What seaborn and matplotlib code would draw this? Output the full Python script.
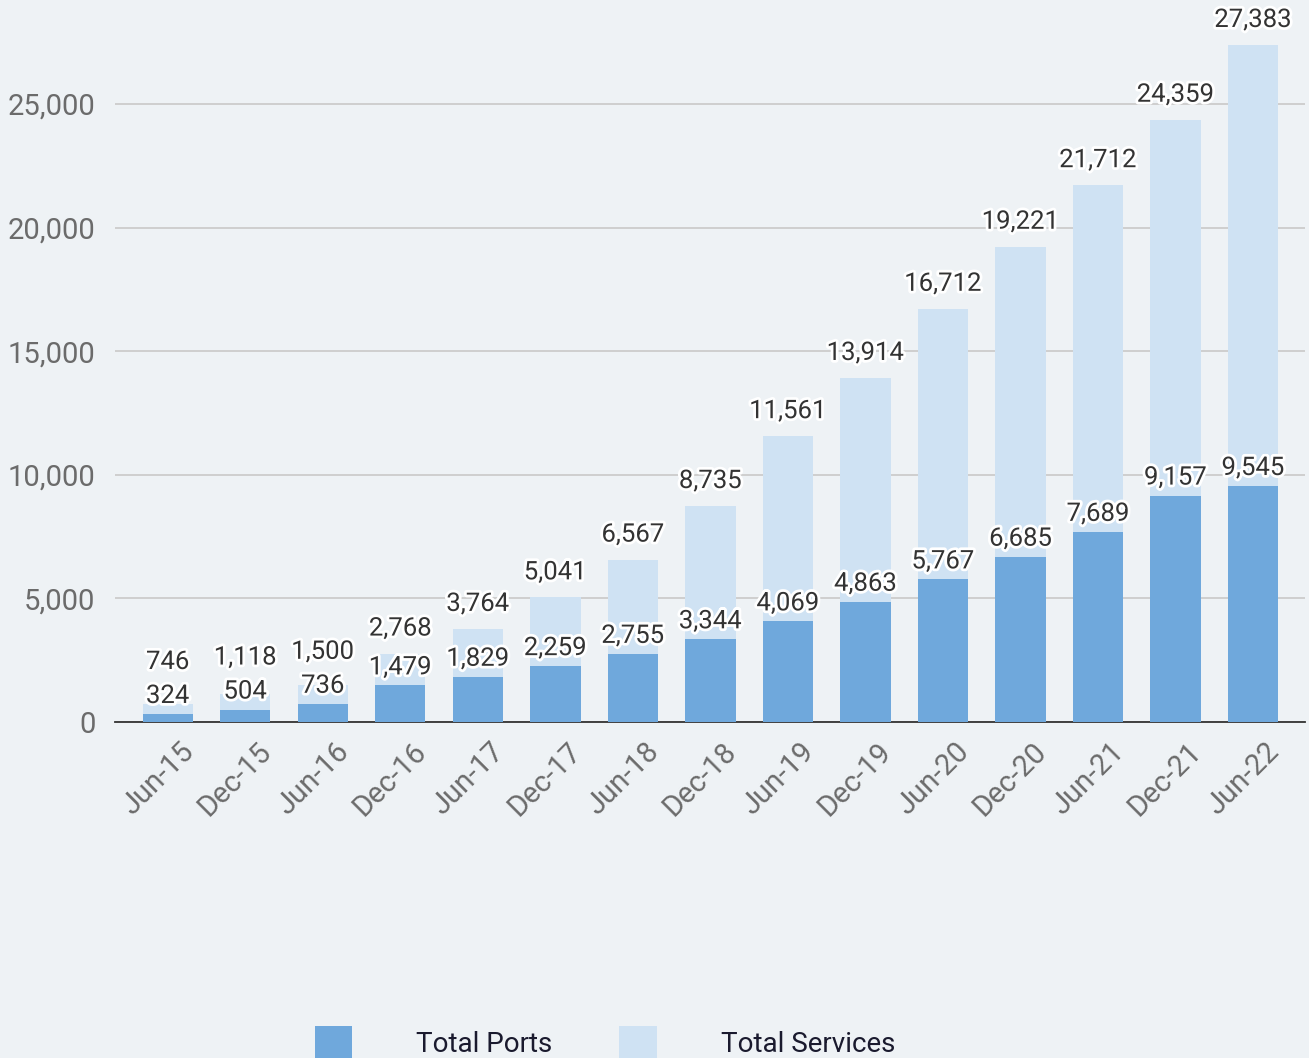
import matplotlib
matplotlib.use("Agg")
import matplotlib.pyplot as plt
import matplotlib.patheffects as pe
import matplotlib.transforms as mtransforms
from matplotlib.patches import Patch
import seaborn as sns
import pandas as pd

periods = ["Jun-15", "Dec-15", "Jun-16", "Dec-16", "Jun-17", "Dec-17", "Jun-18", "Dec-18",
           "Jun-19", "Dec-19", "Jun-20", "Dec-20", "Jun-21", "Dec-21", "Jun-22"]
total_ports = [324, 504, 736, 1479, 1829, 2259, 2755, 3344, 4069, 4863, 5767, 6685, 7689, 9157, 9545]
total_services = [746, 1118, 1500, 2768, 3764, 5041, 6567, 8735, 11561, 13914, 16712, 19221,
                  21712, 24359, 27383]
yticks = [0, 5000, 10000, 15000, 20000, 25000]

BG = "#eef2f5"
DARK = "#6fa8dc"
LIGHT = "#cfe2f3"

sns.set_theme(style="white")
plt.rcParams["font.family"] = ["Roboto", "DejaVu Sans"]

df = pd.DataFrame({"period": periods, "ports": total_ports, "services": total_services})

DPI = 100
fig = plt.figure(figsize=(13.09, 10.58), dpi=DPI, facecolor=BG)
ax = fig.add_axes([115 / 1309, 336 / 1058, (1305 - 115) / 1309, (722 - 5) / 1058])
ax.set_facecolor(BG)

sns.barplot(data=df, x="period", y="services", color=LIGHT, width=0.65, ax=ax,
            saturation=1, linewidth=0, zorder=2)
sns.barplot(data=df, x="period", y="ports", color=DARK, width=0.65, ax=ax,
            saturation=1, linewidth=0, zorder=3)

ax.set_ylim(0, 29000)
ax.set_xlim(-0.68, 14.67)
ax.set_yticks(yticks)
ax.set_yticklabels([f"{v:,}" for v in yticks])
ax.set_xlabel("")
ax.set_ylabel("")
ax.yaxis.grid(True, color="#cccccc", linewidth=1.3, zorder=0)
ax.set_axisbelow(True)
for s in ["top", "right", "left"]:
    ax.spines[s].set_visible(False)
ax.spines["bottom"].set_color("#333333")
ax.spines["bottom"].set_linewidth(1.3)
ax.spines["bottom"].set_zorder(1)

ax.tick_params(axis="y", length=0, labelsize=21, labelcolor="#6b6b6b", pad=14)
ax.tick_params(axis="x", length=0, labelsize=21, labelcolor="#6b6b6b", pad=8)
offset = mtransforms.ScaledTranslation(12 / DPI, -4 / DPI, fig.dpi_scale_trans)
for lbl in ax.get_xticklabels():
    lbl.set_rotation(45)
    lbl.set_ha("right")
    lbl.set_rotation_mode("anchor")
    lbl.set_transform(lbl.get_transform() + offset)

# Data labels: ports label just above its bar, services label above its bar
# but pushed up so that it never collides with the ports label.
px_per_unit = (722 - 5) / 29000.0
stroke = [pe.withStroke(linewidth=4, foreground="white")]
PT = 72.0 / DPI
for i, (p, s) in enumerate(zip(total_ports, total_services)):
    p_off = 18
    s_off = max(25, (p - s) * px_per_unit + p_off + 34)
    for val, off in ((p, p_off), (s, s_off)):
        t = ax.annotate(f"{val:,}", xy=(i, val), xytext=(0, off * PT),
                        textcoords="offset points", ha="center", va="center",
                        fontsize=18.5, color="#333333", zorder=6, annotation_clip=False)
        t.set_path_effects(stroke)

handles = [Patch(facecolor=DARK, edgecolor="none", label="Total Ports"),
           Patch(facecolor=LIGHT, edgecolor="none", label="Total Services")]
leg = fig.legend(handles=handles, loc="center", bbox_to_anchor=(605 / 1309, 1 - 1043 / 1058),
                 ncol=2, frameon=False, fontsize=20, handlelength=1.35, handleheight=1.5,
                 handletextpad=2.3, columnspacing=2.4)
for t in leg.get_texts():
    t.set_color("#1a1a2e")

fig.savefig("out.png", dpi=DPI, facecolor=BG)
